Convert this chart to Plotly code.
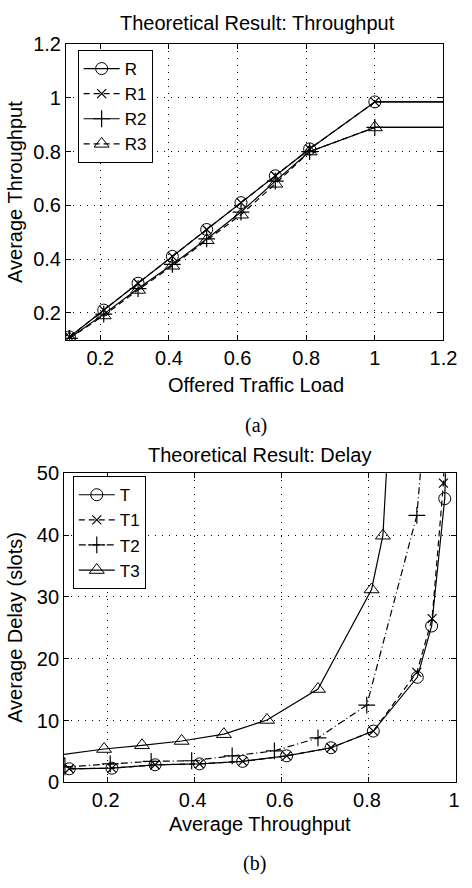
import plotly.graph_objects as go

# ---------------- data: (a) throughput ----------------
load_x = [0.11, 0.21, 0.31, 0.41, 0.51, 0.61, 0.71, 0.81, 1.0]
load_ext = [1.0, 1.2]
R = [0.11, 0.21, 0.31, 0.41, 0.51, 0.61, 0.71, 0.81, 0.985]
R1 = [0.11, 0.21, 0.31, 0.41, 0.51, 0.61, 0.71, 0.81, 0.985]
R2 = [0.105, 0.195, 0.29, 0.38, 0.475, 0.575, 0.69, 0.80, 0.89]
R3 = [0.105, 0.19, 0.285, 0.375, 0.47, 0.565, 0.68, 0.80, 0.89]
top_xticks = [0.2, 0.4, 0.6, 0.8, 1.0, 1.2]
top_xtext = ["0.2", "0.4", "0.6", "0.8", "1", "1.2"]
top_yticks = [0.2, 0.4, 0.6, 0.8, 1.0, 1.2]
top_ytext = ["0.2", "0.4", "0.6", "0.8", "1", "1.2"]

# ---------------- data: (b) delay ----------------
T_x = [0.112, 0.21, 0.309, 0.411, 0.51, 0.611, 0.713, 0.81, 0.911, 0.944, 0.974, 0.98]
T = [2.2, 2.3, 2.85, 3.0, 3.4, 4.3, 5.6, 8.3, 17.0, 25.3, 45.9, 60]
T1_x = [0.112, 0.21, 0.309, 0.411, 0.51, 0.611, 0.713, 0.81, 0.91, 0.945, 0.971, 0.976]
T1 = [2.2, 2.3, 2.85, 3.0, 3.4, 4.3, 5.6, 8.3, 17.8, 26.5, 48.4, 60]
T2_x = [0.102, 0.206, 0.30, 0.393, 0.486, 0.583, 0.683, 0.795, 0.91, 0.93]
T2 = [2.5, 3.0, 3.4, 3.5, 4.3, 5.1, 7.2, 12.5, 43.2, 60]
T3_x = [0.085, 0.192, 0.279, 0.37, 0.467, 0.566, 0.683, 0.806, 0.832, 0.848]
T3 = [4.4, 5.4, 6.0, 6.7, 7.8, 10.1, 15.1, 31.2, 39.9, 60]
bot_xticks = [0.2, 0.4, 0.6, 0.8, 1.0]
bot_xtext = ["0.2", "0.4", "0.6", "0.8", "1"]
bot_yticks = [0, 10, 20, 30, 40, 50]
bot_ytext = ["0", "10", "20", "30", "40", "50"]

W, H = 472, 888
FONT = "Liberation Sans, Arial, sans-serif"
FS = 20
LFS = 17


def px(x):
    return x / W


def py(y):
    return 1 - y / H


fig = go.Figure()

mk = {
    "o": dict(symbol="circle-open", size=12, color="black", line=dict(color="black", width=1)),
    "x": dict(symbol="x-thin-open", size=9, color="black", line=dict(color="black", width=1.2)),
    "+": dict(symbol="cross-thin-open", size=12, color="black", line=dict(color="black", width=1.2)),
    "^": dict(symbol="triangle-up-open", size=13, color="black", line=dict(color="black", width=1)),
}
solid = dict(color="black", width=1.2)
dashed = dict(color="black", width=1.2, dash="6px,4px")
dashdot = dict(color="black", width=1.2, dash="7px,3px,1px,3px")

# top chart
for name, ys, m, ln in [("R", R, "o", solid), ("R1", R1, "x", dashed),
                        ("R2", R2, "+", solid), ("R3", R3, "^", dashed)]:
    fig.add_trace(go.Scatter(x=load_x, y=ys, name=name, mode="lines+markers",
                             marker=mk[m], line=ln, xaxis="x", yaxis="y",
                             legend="legend"))
    fig.add_trace(go.Scatter(x=load_ext, y=[ys[-1], ys[-1]], mode="lines",
                             line=solid, showlegend=False, xaxis="x", yaxis="y",
                             hoverinfo="skip"))

# bottom chart
for name, xs, ys, m, ln in [("T", T_x, T, "o", solid), ("T1", T1_x, T1, "x", dashed),
                            ("T2", T2_x, T2, "+", dashdot), ("T3", T3_x, T3, "^", solid)]:
    fig.add_trace(go.Scatter(x=xs, y=ys, name=name, mode="lines+markers",
                             marker=mk[m], line=ln, xaxis="x2", yaxis="y2",
                             legend="legend2", cliponaxis=True))

axis_common = dict(showline=True, linecolor="black", linewidth=1, mirror="ticks",
                   ticks="inside", ticklen=5, tickcolor="black", showgrid=True,
                   gridcolor="black", gridwidth=1, griddash="1px,6px", zeroline=False,
                   ticklabeloverflow="allow",
                   tickfont=dict(family=FONT, size=FS, color="black"))

legend_common = dict(xanchor="left", yanchor="top", bordercolor="black", borderwidth=1,
                     bgcolor="white", font=dict(family=FONT, size=LFS, color="black"),
                     itemwidth=36, tracegroupgap=0)

fig.update_layout(
    width=W, height=H, margin=dict(l=0, r=0, t=0, b=0),
    paper_bgcolor="white", plot_bgcolor="white",
    font=dict(family=FONT, size=FS, color="black"),
    xaxis=dict(domain=[px(68), px(457)], range=[0.1, 1.2], tickvals=top_xticks,
               ticktext=top_xtext, anchor="y", **axis_common),
    yaxis=dict(domain=[py(337), py(34)], range=[0.1, 1.2], tickvals=top_yticks,
               ticktext=top_ytext, anchor="x", **axis_common),
    xaxis2=dict(domain=[px(66), px(470)], range=[0.1, 1.0], tickvals=bot_xticks,
                ticktext=bot_xtext, anchor="y2", ticklabelshift=-2, **axis_common),
    yaxis2=dict(domain=[py(791), py(474)], range=[0, 50], tickvals=bot_yticks,
                ticktext=bot_ytext, anchor="x2", **axis_common),
    legend=dict(x=px(80), y=py(40), **legend_common),
    legend2=dict(x=px(75), y=py(477), **legend_common),
    showlegend=True,
)

ann = [
    ("Theoretical Result: Throughput", 265, 12, 0, FONT),
    ("Average Throughput", 16, 186, -90, FONT),
    ("Offered Traffic Load", 264, 383, 0, FONT),
    ("(a)", 264, 425, 0, "Liberation Serif, Times New Roman, serif"),
    ("Theoretical Result: Delay", 267, 455, 0, FONT),
    ("Average Delay (slots)", 16, 632, -90, FONT),
    ("Average Throughput", 268, 834, 0, FONT),
    ("(b)", 262, 874, 0, "Liberation Serif, Times New Roman, serif"),
]
for text, x, y, ang, fam in ann:
    fig.add_annotation(text=text, x=px(x), y=py(y), xref="paper", yref="paper",
                       xanchor="center", yanchor="middle", showarrow=False,
                       textangle=ang, font=dict(family=fam, size=FS, color="black"))

fig.write_html(
    "out.html",
    config={"displayModeBar": False},
    post_script="document.body.style.margin='0px';"
                "document.documentElement.style.overflow='hidden';",
)
